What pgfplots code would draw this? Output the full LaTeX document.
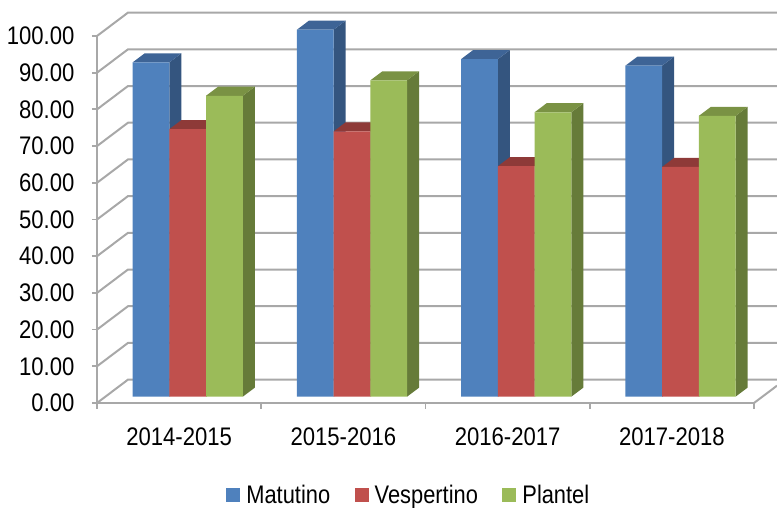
\documentclass[border=0pt]{standalone}
\usepackage{pgfplots}
\usepackage{pgfplotstable}
\usepackage{fontspec}
\pgfplotsset{compat=1.18}
\setmainfont[FakeStretch=0.87]{Liberation Sans}
\newfontfamily\legfont[FakeStretch=0.86]{Liberation Sans}
\definecolor{mblue}{HTML}{4F81BD}
\definecolor{mblueS}{HTML}{34557F}
\definecolor{mblueT}{HTML}{3E6496}
\definecolor{vred}{HTML}{C0504D}
\definecolor{vredS}{HTML}{7E2F2D}
\definecolor{vredT}{HTML}{8E3A38}
\definecolor{pgreen}{HTML}{9BBB59}
\definecolor{pgreenS}{HTML}{667B39}
\definecolor{pgreenT}{HTML}{7A9244}
\definecolor{wallgrid}{HTML}{A8A8A8}
\pgfplotstableread{
row x m v p
0 0.5 91.1 72.9 82.0
1 1.5 100.0 72.3 86.2
2 2.5 92.0 62.8 77.5
3 3.5 90.2 62.6 76.5
}\datatable
% one bar's side and top faces: #1 row, #2 column, #3 bar position (-1,0,1), #4 side colour, #5 top colour
\newcommand\barfaces[5]{%
  \pgfplotstablegetelem{#1}{#2}\of\datatable
  \let\val\pgfplotsretval
  \pgfmathsetmacro\xl{#1+0.5+(#3)*0.22344-0.11172}%
  \pgfmathsetmacro\xr{\xl+0.22344}%
  \pgfmathsetmacro\xlb{\xl+0.0731}%
  \pgfmathsetmacro\xrb{\xr+0.0731}%
  \pgfmathsetmacro\vb{\val+2.46}%
  \addplot[forget plot,fill=#4,draw=none] coordinates {(\xr,0) (\xrb,2.46) (\xrb,\vb) (\xr,\val)} --cycle;
  \addplot[forget plot,fill=#5,draw=none] coordinates {(\xl,\val) (\xlb,\vb) (\xrb,\vb) (\xr,\val)} --cycle;
}
\newcommand\wallline[1]{%
  \pgfmathsetmacro\vb{#1+6.37}%
  \addplot[forget plot,wallgrid,line width=2bp] coordinates {(0,#1) (0.1887,\vb) (4.14,\vb)};
}
\pgfplotsset{sq/.style={legend image code/.code={\path[##1] (0bp,-7bp) rectangle (14bp,7bp);\path[fill=none,draw=none] (18bp,0bp) circle (0.01bp);}}}
\begin{document}
\begin{tikzpicture}
\useasboundingbox (0,0) rectangle (777bp,508bp);
\clip (0,0) rectangle (777bp,508bp);
\begin{axis}[
  at={(97bp,105bp)},anchor=origin,
  scale only axis,width=657bp,height=367bp,
  xmin=0,xmax=4,ymin=0,ymax=100,clip=false,
  axis x line*=bottom,axis y line*=left,
  axis line style={wallgrid,line width=2.2bp,-},
  xtick={0.5,1.5,2.5,3.5},
  xticklabels={2014-2015,2015-2016,2016-2017,2017-2018},
  minor xtick={0,1,2,3,4},
  ytick={0,10,...,100},
  major tick style={wallgrid,line width=1.8bp},
  minor tick style={wallgrid,line width=1.8bp},
  tick align=outside,
  major x tick style={draw=none},
  minor tick length=6bp,
  major tick length=5bp,
  tick label style={font=\fontsize{25.5}{25.5}\selectfont,text=black},
  /pgf/number format/assume math mode=true,
  yticklabel style={/pgf/number format/.cd,fixed,fixed zerofill,precision=2},
  yticklabel shift=14bp,
  xticklabel shift=16bp,
]
\wallline{0}\wallline{10}\wallline{20}\wallline{30}\wallline{40}\wallline{50}
\wallline{60}\wallline{70}\wallline{80}\wallline{90}\wallline{100}
\addplot[forget plot,wallgrid,line width=2bp] coordinates {(4,0) (4.14,4.72)};
\end{axis}
\begin{axis}[
  at={(105.6bp,111.3bp)},anchor=origin,
  scale only axis,width=657bp,height=367bp,
  xmin=0,xmax=4,ymin=0,ymax=100,clip=false,
  hide axis,
  legend columns=3,
  legend style={at={(0.4615,-0.268)},anchor=center,draw=none,fill=none,
    font=\legfont\fontsize{25.5}{25.5}\selectfont,
    /tikz/every even column/.append style={column sep=22.5bp}},
]
\barfaces{0}{m}{-1}{mblueS}{mblueT}\barfaces{1}{m}{-1}{mblueS}{mblueT}
\barfaces{2}{m}{-1}{mblueS}{mblueT}\barfaces{3}{m}{-1}{mblueS}{mblueT}
\addplot[ybar,sq,bar width=36.7bp,bar shift=-36.7bp,fill=mblue,draw=none] table[x=x,y=m] {\datatable};
\addlegendentry{Matutino}
\barfaces{0}{v}{0}{vredS}{vredT}\barfaces{1}{v}{0}{vredS}{vredT}
\barfaces{2}{v}{0}{vredS}{vredT}\barfaces{3}{v}{0}{vredS}{vredT}
\addplot[ybar,sq,bar width=36.7bp,bar shift=0bp,fill=vred,draw=none] table[x=x,y=v] {\datatable};
\addlegendentry{Vespertino}
\barfaces{0}{p}{1}{pgreenS}{pgreenT}\barfaces{1}{p}{1}{pgreenS}{pgreenT}
\barfaces{2}{p}{1}{pgreenS}{pgreenT}\barfaces{3}{p}{1}{pgreenS}{pgreenT}
\addplot[ybar,sq,bar width=36.7bp,bar shift=36.7bp,fill=pgreen,draw=none] table[x=x,y=p] {\datatable};
\addlegendentry{Plantel}
\end{axis}
\end{tikzpicture}
\end{document}
